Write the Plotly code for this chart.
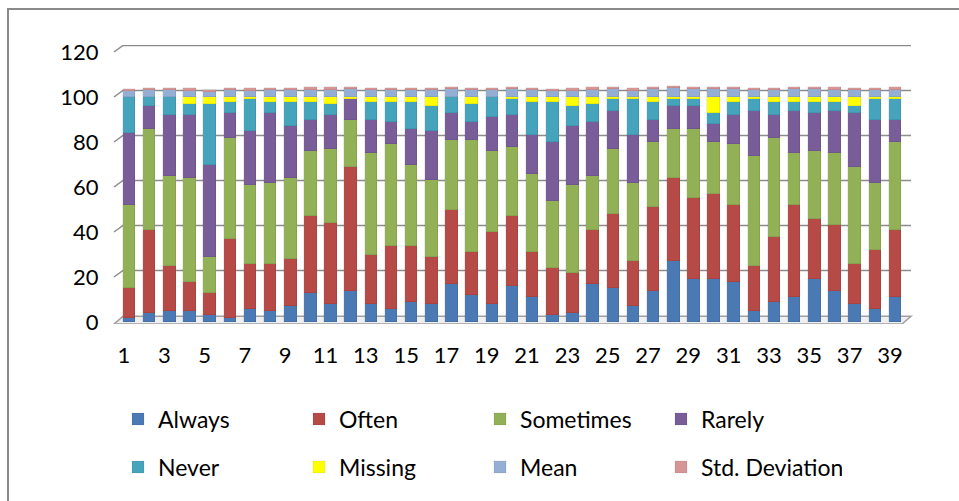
import plotly.graph_objects as go

# Question numbers on the x axis
questions = list(range(1, 40))
tick_numbers = list(range(1, 40, 2))

# Response shares (percent) per question
always = [2, 4, 5, 5, 3, 2, 6, 5, 7, 13, 8, 14, 8, 6, 9, 8, 17, 12, 8, 16,
          11, 3, 4, 17, 15, 7, 14, 27, 19, 19, 18, 5, 9, 11, 19, 14, 8, 6, 11]
often = [13, 37, 20, 13, 10, 35, 20, 21, 21, 34, 36, 55, 22, 28, 25, 21, 33, 19, 32, 31,
         20, 21, 18, 24, 33, 20, 37, 37, 36, 38, 34, 20, 29, 41, 27, 29, 18, 26, 30]
sometimes = [37, 45, 40, 46, 16, 45, 35, 36, 36, 29, 33, 21, 45, 45, 36, 34, 31, 50, 36, 31,
             35, 30, 39, 24, 29, 35, 29, 22, 31, 23, 27, 49, 44, 23, 30, 32, 43, 30, 39]
rarely = [32, 10, 27, 28, 41, 11, 24, 31, 23, 14, 15, 9, 15, 10, 16, 22, 12, 8, 15, 14,
          17, 26, 26, 24, 17, 21, 10, 10, 10, 8, 13, 20, 10, 19, 17, 19, 24, 28, 10]
never = [16, 4, 8, 5, 27, 5, 14, 5, 11, 8, 5, 0, 8, 9, 12, 11, 7, 8, 9, 7,
         15, 18, 9, 8, 5, 16, 8, 3, 3, 5, 6, 5, 6, 4, 5, 4, 3, 9, 9]
missing = [0, 0, 0, 3, 3, 2, 1, 2, 2, 2, 3, 1, 2, 2, 2, 4, 0, 3, 0, 1,
           2, 2, 4, 3, 1, 1, 2, 1, 1, 7, 2, 1, 2, 2, 2, 2, 4, 1, 1]
mean = [2.6, 3.3, 2.9, 2.8, 2.2, 3.2, 2.8, 2.9, 2.9, 3.3, 3.3, 3.7, 3.1, 3.1, 3.0, 2.9, 3.4, 3.2, 3.2, 3.4,
        2.9, 2.6, 2.8, 3.2, 3.4, 2.8, 3.4, 3.8, 3.6, 3.6, 3.5, 3.0, 3.3, 3.4, 3.4, 3.3, 3.0, 2.9, 3.2]
std_dev = [1.1, 0.9, 1.0, 1.0, 1.1, 0.9, 1.1, 1.0, 1.1, 1.1, 1.0, 0.9, 1.0, 0.9, 1.1, 1.1, 1.1, 1.0, 1.0, 1.1,
           1.2, 1.1, 1.0, 1.2, 1.0, 1.1, 1.0, 1.0, 1.0, 1.0, 1.1, 0.9, 0.9, 1.0, 1.1, 1.1, 1.0, 1.1, 1.1]

y_ticks = [0, 20, 40, 60, 80, 100, 120]

series = [
    ("Always", always, "#4A79B3", "legend"),
    ("Often", often, "#B54A47", "legend"),
    ("Sometimes", sometimes, "#92B055", "legend"),
    ("Rarely", rarely, "#785D99", "legend"),
    ("Never", never, "#46A3BC", "legend2"),
    ("Missing", missing, "#FFFF00", "legend2"),
    ("Mean", mean, "#94AED4", "legend2"),
    ("Std. Deviation", std_dev, "#D69695", "legend2"),
]

FONT = "Lato, 'Open Sans', Arial, sans-serif"
AXIS_SIZE = 22
LEGEND_SIZE = 23

fig = go.Figure()
for name, values, color, leg in series:
    fig.add_trace(go.Bar(
        name=name, x=questions, y=values, width=0.62,
        marker=dict(color=color, line=dict(color="rgba(0,0,0,0.15)", width=0.5)),
        legend=leg,
    ))

# back-wall gridlines with the short perspective stub on the left
DEPTH = 2.9      # vertical offset of the back wall, in value units
STUB = 0.0113    # horizontal offset of the back wall, in plot fraction
shapes = []
shapes.append(dict(
    type="path", xref="paper", yref="y", layer="below",
    path=f"M 0,-0.9 L {STUB},{DEPTH - 0.4} L 1,{DEPTH - 0.4} L {1 - STUB},-0.9 Z",
    fillcolor="#EFEFEF", line=dict(color="#A0A0A0", width=1.5),
))
for v in y_ticks[1:]:
    shapes.append(dict(
        type="path", xref="paper", yref="y", layer="below",
        path=f"M 0,{v} L {STUB},{v + DEPTH} L 1,{v + DEPTH}",
        line=dict(color="#8C8C8C", width=1.5),
    ))
# chart frame
shapes.append(dict(
    type="rect", xref="paper", yref="paper", layer="below",
    x0=-0.133, x1=1.08, y0=-0.7, y1=1.129,
    line=dict(color="#8A8A8A", width=2), fillcolor="rgba(0,0,0,0)",
))

legend_common = dict(
    orientation="h", xref="container", yref="container",
    xanchor="left", yanchor="middle", x=118 / 959,
    entrywidth=136, entrywidthmode="pixels",
    font=dict(family=FONT, size=LEGEND_SIZE, color="#000000"),
    bgcolor="rgba(0,0,0,0)", traceorder="normal",
)

fig.update_layout(
    width=959, height=501,
    margin=dict(l=114, r=48, t=45, b=177),
    paper_bgcolor="#FFFFFF", plot_bgcolor="#FFFFFF",
    barmode="stack", bargap=0,
    font=dict(family=FONT, size=AXIS_SIZE, color="#000000"),
    showlegend=True,
    legend=dict(legend_common, y=1 - 419 / 501),
    legend2=dict(legend_common, y=1 - 467 / 501),
    shapes=shapes,
    xaxis=dict(
        range=[0.256, 39.794],
        tickvals=[n - 0.25 for n in tick_numbers],
        ticktext=[str(n) for n in tick_numbers],
        showgrid=False, zeroline=False, showline=False,
        ticks="outside", ticklen=12, tickcolor="rgba(0,0,0,0)",
        tickfont=dict(family=FONT, size=AXIS_SIZE, color="#000000"),
    ),
    yaxis=dict(
        range=[-0.889, 123.11],
        tickvals=y_ticks,
        showgrid=False, zeroline=False, showline=False,
        ticks="outside", ticklen=10, tickcolor="rgba(0,0,0,0)",
        tickfont=dict(family=FONT, size=AXIS_SIZE, color="#000000"),
    ),
)

fig.write_html("out.html")
